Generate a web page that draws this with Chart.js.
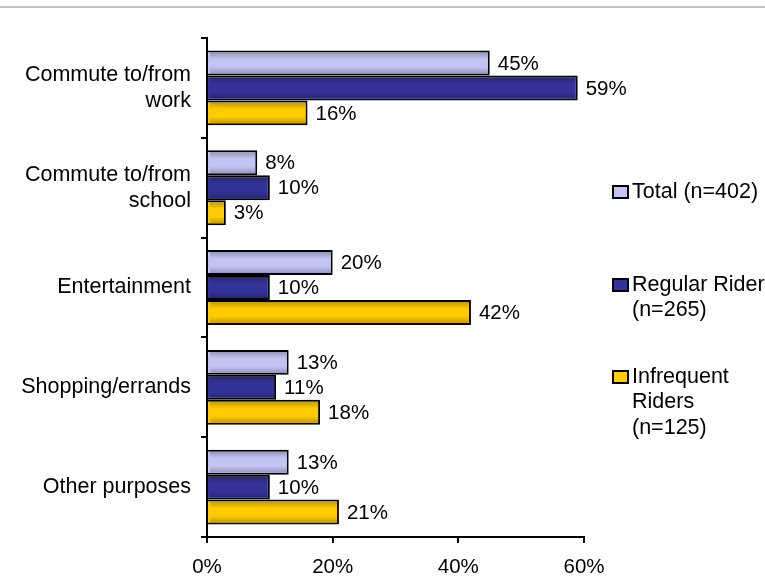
<!DOCTYPE html>
<html>
<head>
<meta charset="utf-8">
<script src="https://cdn.jsdelivr.net/npm/chart.js@4/dist/chart.umd.min.js"></script>
<style>
  html, body { margin: 0; padding: 0; background: #fff; }
  canvas { display: block; }
</style>
</head>
<body>
<canvas id="chart" width="765" height="580"></canvas>
<script>
const categories = [
  ['Commute to/from', 'work'],
  ['Commute to/from', 'school'],
  'Entertainment',
  'Shopping/errands',
  'Other purposes'
];
const seriesNames = [
  ['Total (n=402)'],
  ['Regular Rider', '(n=265)'],
  ['Infrequent', 'Riders', '(n=125)']
];
const totalValues = [45, 8, 20, 13, 13];
const regularValues = [59, 10, 10, 11, 10];
const infrequentValues = [16, 3, 42, 18, 21];
const xTicks = [0, 20, 40, 60];

const fillColors = ['#c4c4f4', '#333399', '#ffcc00'];
const FONT = "'Liberation Sans', Arial, sans-serif";

Chart.defaults.font.family = FONT;
Chart.defaults.font.size = 20.5;
Chart.defaults.color = '#000';

// grey rule across the top, shading on bars, value labels, legend
const decor = {
  id: 'decor',
  beforeDraw(chart) {
    const ctx = chart.ctx;
    ctx.save();
    ctx.fillStyle = '#c0c0c0';
    ctx.fillRect(0, 6, chart.width, 2);
    ctx.restore();
  },
  afterDatasetsDraw(chart) {
    const ctx = chart.ctx;
    ctx.save();
    chart.data.datasets.forEach((ds, i) => {
      const meta = chart.getDatasetMeta(i);
      meta.data.forEach((bar, j) => {
        const top = bar.y - bar.height / 2;
        const bottom = bar.y + bar.height / 2;
        const left = bar.base;
        const g = ctx.createLinearGradient(0, top, 0, bottom);
        g.addColorStop(0, 'rgba(0,0,0,0.3)');
        g.addColorStop(0.35, 'rgba(0,0,0,0)');
        g.addColorStop(0.65, 'rgba(0,0,0,0)');
        g.addColorStop(1, 'rgba(0,0,0,0.3)');
        ctx.fillStyle = g;
        ctx.fillRect(left + 2, top + 2, bar.x - left - 4, bottom - top - 4);

        ctx.fillStyle = '#000';
        ctx.font = '20.5px ' + FONT;
        ctx.textAlign = 'left';
        ctx.textBaseline = 'middle';
        ctx.fillText(ds.data[j] + '%', bar.x + 8, bar.y + 1);
      });
    });

    // legend
    const legendY = [192, 285, 377];
    ctx.font = '21.5px ' + FONT;
    ctx.textBaseline = 'middle';
    seriesNames.forEach((lines, i) => {
      const y = legendY[i];
      ctx.fillStyle = fillColors[i];
      ctx.fillRect(613, y - 6, 15, 12);
      ctx.strokeStyle = '#000';
      ctx.lineWidth = 2;
      ctx.strokeRect(613, y - 6, 15, 12);
      ctx.fillStyle = '#000';
      lines.forEach((t, k) => ctx.fillText(t, 632, y + k * 25.5));
    });
    ctx.restore();
  }
};

new Chart(document.getElementById('chart'), {
  type: 'bar',
  data: {
    labels: categories,
    datasets: [
      { label: seriesNames[0].join(' '), data: totalValues, backgroundColor: fillColors[0] },
      { label: seriesNames[1].join(' '), data: regularValues, backgroundColor: fillColors[1] },
      { label: seriesNames[2].join(' '), data: infrequentValues, backgroundColor: fillColors[2] }
    ]
  },
  options: {
    indexAxis: 'y',
    responsive: false,
    animation: false,
    layout: { padding: { top: 38, right: 181, bottom: 0, left: 0 } },
    datasets: {
      bar: {
        borderColor: '#000',
        borderWidth: 2,
        categoryPercentage: 0.75,
        barPercentage: 1
      }
    },
    plugins: {
      legend: { display: false },
      tooltip: { enabled: false }
    },
    scales: {
      x: {
        min: 0,
        max: 60,
        afterFit(scale) { scale.height = 43; },
        afterBuildTicks(scale) { scale.ticks = xTicks.map(v => ({ value: v })); },
        ticks: {
          padding: 12,
          callback: v => v + '%'
        },
        grid: {
          drawOnChartArea: false,
          drawTicks: true,
          tickLength: 6,
          color: '#000',
          lineWidth: 2
        },
        border: { color: '#000', width: 2 }
      },
      y: {
        afterFit(scale) { scale.width = 207; },
        ticks: { padding: 10, lineHeight: 1.25, font: { size: 21.5 } },
        grid: {
          offset: true,
          drawOnChartArea: false,
          drawTicks: true,
          tickLength: 6,
          color: '#000',
          lineWidth: 2
        },
        border: { color: '#000', width: 2 }
      }
    }
  },
  plugins: [decor]
});
</script>
</body>
</html>
